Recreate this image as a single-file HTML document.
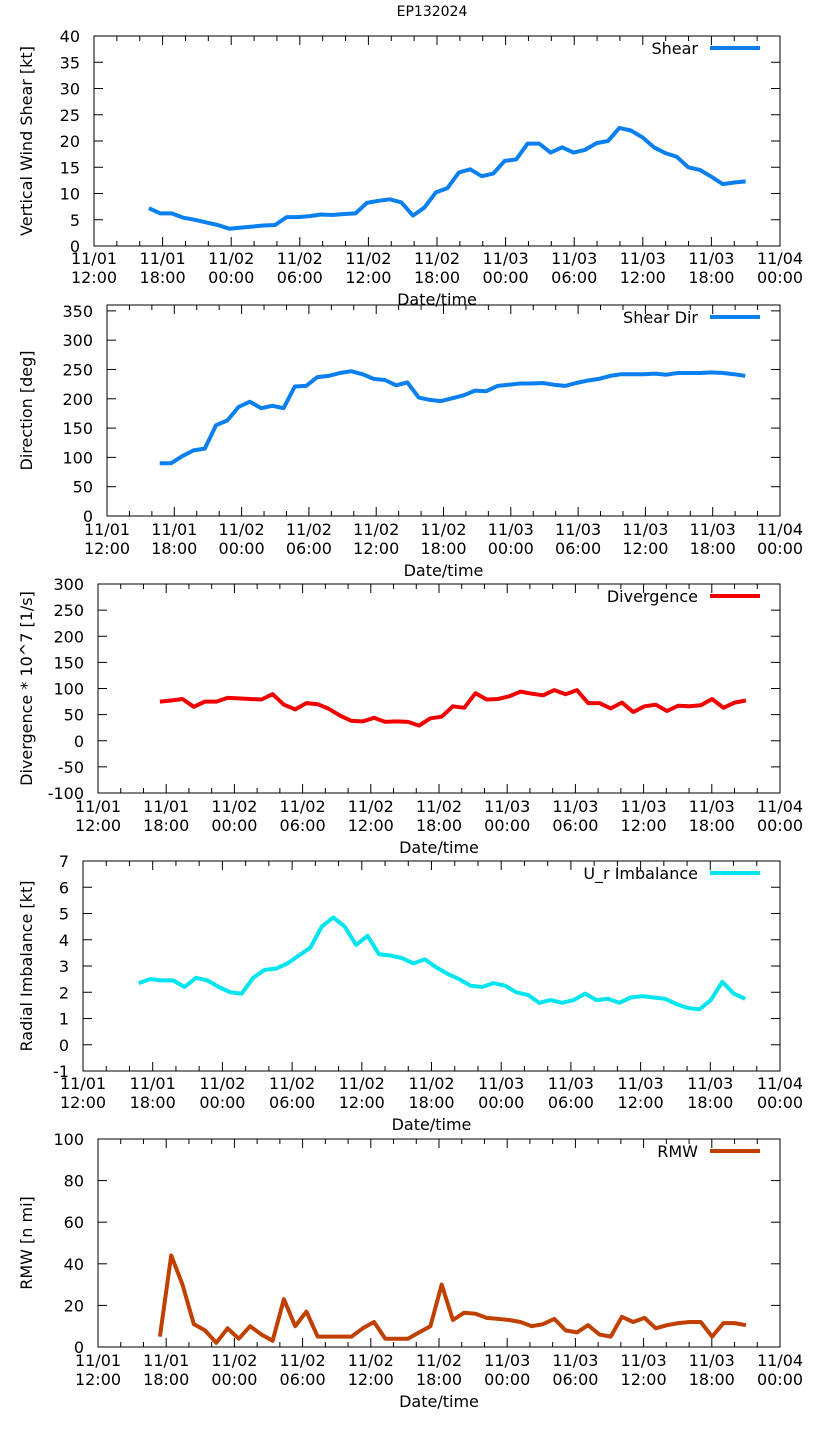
<!DOCTYPE html>
<html><head><meta charset="utf-8"><style>
body{margin:0;background:#fff;}
svg text{font-family:"DejaVu Sans","Liberation Sans",sans-serif;font-size:16px;fill:#000;}
</style></head><body>
<svg id="c" width="823" height="1439" xmlns="http://www.w3.org/2000/svg">
<text x="432" y="16" text-anchor="middle" style="font-size:14px">EP132024</text>
</svg>
<script>
const xTickTop = ["11/01","11/01","11/02","11/02","11/02","11/02","11/03","11/03","11/03","11/03","11/04"];
const xTickBot = ["12:00","18:00","00:00","06:00","12:00","18:00","00:00","06:00","12:00","18:00","00:00"];
const shearVals = [7.2,6.2,6.2,5.4,5.0,4.5,4.0,3.3,3.5,3.7,3.9,4.0,5.5,5.5,5.7,6.0,5.9,6.1,6.2,8.2,8.6,8.9,8.3,5.8,7.3,10.2,11.0,14.0,14.6,13.3,13.8,16.2,16.5,19.5,19.5,17.8,18.8,17.8,18.3,19.6,20.0,22.5,22.0,20.7,18.8,17.7,17.0,15.0,14.5,13.2,11.8,12.1,12.3];
const dirVals = [90,90,102,112,115,155,163,186,195,184,188,184,221,222,237,239,244,247,242,234,232,223,228,202,198,196,201,206,214,213,222,224,226,226,227,224,222,227,231,234,239,242,242,242,243,241,244,244,244,245,244,242,239];
const divVals = [75,77,80,65,75,75,82,81,80,79,89,69,60,72,70,61,48,38,37,44,36,37,36,29,43,46,66,63,91,79,80,85,94,90,87,97,89,97,72,72,62,73,55,66,69,57,67,66,68,80,63,73,77];
const urVals = [2.35,2.5,2.45,2.45,2.2,2.55,2.45,2.2,2.0,1.95,2.55,2.85,2.9,3.1,3.4,3.7,4.5,4.85,4.5,3.8,4.15,3.45,3.4,3.3,3.1,3.25,2.95,2.7,2.5,2.25,2.2,2.35,2.25,2.0,1.9,1.6,1.7,1.6,1.7,1.95,1.7,1.75,1.6,1.8,1.85,1.8,1.75,1.55,1.4,1.35,1.7,2.4,1.95,1.75];
const rmwVals = [5,44,30,11,8,2,9,4,10,6,3,23,10,17,5,5,5,5,9,12,4,4,4,7,10,30,13,16.5,16,14,13.5,13,12,10,11,13.5,8,7,10.5,6,5,14.5,12,14,9,10.5,11.5,12,12,5,11.5,11.5,10.5];
const seriesStart = [4.8,4.7,5.45,4.8,5.45];
const seriesEnd = [57.0,56.9,57.0,57.0,57.0];

const panels = [
 {name:"shear",vals:shearVals,l:94,t:36,b:246,ymin:0,ymax:40,step:5,ylab:"Vertical Wind Shear [kt]",leg:"Shear",col:"#0a7ff0",ty:264},
 {name:"direction",vals:dirVals,l:107,t:305,b:516,ymin:0,ymax:360,step:50,ylab:"Direction [deg]",leg:"Shear Dir",col:"#0a7ff0",ty:535},
 {name:"divergence",vals:divVals,l:98,t:584,b:793,ymin:-100,ymax:300,step:50,ylab:"Divergence * 10^7 [1/s]",leg:"Divergence",col:"#f20000",ty:812},
 {name:"radial-imbalance",vals:urVals,l:83,t:861,b:1071,ymin:-1,ymax:7,step:1,ylab:"Radial Imbalance [kt]",leg:"U_r Imbalance",col:"#00e5ee",ty:1089},
 {name:"rmw",vals:rmwVals,l:98,t:1139,b:1347,ymin:0,ymax:100,step:20,ylab:"RMW [n mi]",leg:"RMW",col:"#c04000",ty:1366}
];
const svg=document.getElementById('c');
const NS="http://www.w3.org/2000/svg";
function mk(tag,attrs,parent){const e=document.createElementNS(NS,tag);for(const k in attrs)e.setAttribute(k,attrs[k]);(parent||svg).appendChild(e);return e;}
const R=780;
panels.forEach((p,pi)=>{
 const g=mk('g',{});
 
 
 const xs=h=>p.l+(R-p.l)*h/60;
 const ys=v=>p.b-(p.b-p.t)*(v-p.ymin)/(p.ymax-p.ymin);
 const frame=mk('rect',{x:p.l,y:p.t,width:R-p.l,height:p.b-p.t,fill:'none',stroke:'#000','stroke-width':1},g);
 
 
 for(let h=0;h<=60;h+=2){
  const x=xs(h), len=(h%6===0)?9:5;
  mk('line',{x1:x,y1:p.b,x2:x,y2:p.b-len,stroke:'#000'},g);
  mk('line',{x1:x,y1:p.t,x2:x,y2:p.t+len,stroke:'#000'},g);
 }
 for(let i=0;i<=10;i++){
  const x=xs(i*6);
  const t=mk('text',{x:x,y:p.ty,'text-anchor':'middle'},g);
  
  
  const s1=mk('tspan',{x:x,dy:0},t);s1.textContent=xTickTop[i];
  const s2=mk('tspan',{x:x,dy:19},t);s2.textContent=xTickBot[i];
 }
 const xl=mk('text',{x:(p.l+R)/2,y:p.ty+41,'text-anchor':'middle'},g);
 
 
 xl.textContent='Date/time';
 for(let v=p.ymin;v<=p.ymax+1e-9;v+=p.step){
  const y=ys(v);
  mk('line',{x1:p.l,y1:y,x2:p.l+9,y2:y,stroke:'#000'},g);
  mk('line',{x1:R,y1:y,x2:R-9,y2:y,stroke:'#000'},g);
  const t=mk('text',{x:p.l-14,y:y+6,'text-anchor':'end'},g);
  
  
  t.textContent=String(Math.round(v*100)/100);
 }
 const cy=(p.t+p.b)/2;
 const yl=mk('text',{x:32,y:cy,'text-anchor':'middle',transform:`rotate(-90 32 ${cy})`},g);
 
 
 yl.textContent=p.ylab;
 const n=p.vals.length, t0=seriesStart[pi], t1=seriesEnd[pi];
 const pts=p.vals.map((v,i)=>xs(t0+(t1-t0)*i/(n-1)).toFixed(1)+','+ys(v).toFixed(1)).join(' ');
 const line=mk('polyline',{points:pts,fill:'none',stroke:p.col,'stroke-width':4,'stroke-linejoin':'round'},g);
 
 
 const lt=mk('text',{x:698,y:p.t+18,'text-anchor':'end'},g);
 
 
 lt.textContent=p.leg;
 const ll=mk('line',{x1:710,y1:p.t+12,x2:760,y2:p.t+12,stroke:p.col,'stroke-width':4},g);
 
 
});
</script>
</body></html>
